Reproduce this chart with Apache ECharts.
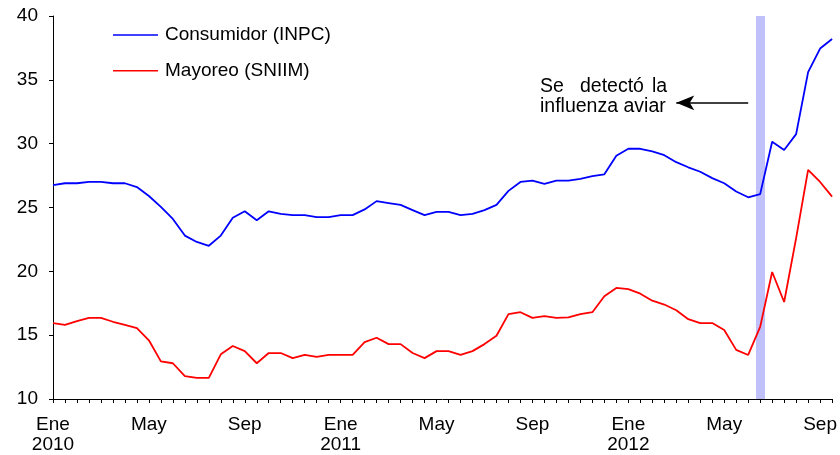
<!DOCTYPE html>
<html>
<head>
<meta charset="utf-8">
<script src="https://cdn.jsdelivr.net/npm/echarts@6/dist/echarts.min.js"></script>
<style>
  html, body { margin: 0; padding: 0; background: #fff; }
  #chart { width: 840px; height: 455px; }
</style>
</head>
<body>
<div id="chart"></div>
<script>
// precios del huevo, datos quincenales Ene 2010 - Sep 2012
var months = ['Ene', 'Feb', 'Mar', 'Abr', 'May', 'Jun', 'Jul', 'Ago', 'Sep', 'Oct', 'Nov', 'Dic'];
var years = [2010, 2011, 2012];
var tickLabels = ['Ene\n2010', 'May', 'Sep', 'Ene\n2011', 'May', 'Sep', 'Ene\n2012', 'May', 'Sep'];

// Consumidor (INPC)
var inpc = [
  26.75, 26.9, 26.9, 27.0, 27.0, 26.9, 26.9, 26.6, 25.9, 25.05, 24.1, 22.8,
  22.3, 22.0, 22.8, 24.2, 24.7, 24.0, 24.7, 24.5, 24.4, 24.4, 24.25, 24.25,
  24.4, 24.4, 24.85, 25.5, 25.35, 25.2, 24.8, 24.4, 24.65, 24.65, 24.4, 24.5,
  24.8, 25.2, 26.3, 27.0, 27.1, 26.85, 27.1, 27.1, 27.25, 27.45, 27.6, 29.05,
  29.6, 29.6, 29.4, 29.1, 28.55, 28.15, 27.8, 27.3, 26.9, 26.25, 25.8, 26.05,
  30.15, 29.5, 30.75, 35.6, 37.45, 38.2
];
// Mayoreo (SNIIM)
var sniim = [
  15.95, 15.8, 16.1, 16.35, 16.35, 16.05, 15.8, 15.55, 14.6, 12.95, 12.8, 11.8,
  11.65, 11.65, 13.5, 14.15, 13.75, 12.8, 13.6, 13.6, 13.2, 13.45, 13.3, 13.45,
  13.45, 13.45, 14.45, 14.8, 14.3, 14.3, 13.6, 13.2, 13.75, 13.75, 13.45, 13.75,
  14.3, 14.95, 16.65, 16.8, 16.35, 16.5, 16.35, 16.4, 16.65, 16.8, 18.05, 18.7,
  18.6, 18.25, 17.7, 17.4, 16.95, 16.25, 15.95, 15.95, 15.4, 13.85, 13.45, 15.65,
  19.95, 17.6, 22.6, 27.95, 27.0, 25.85
];

// quincena en que se detectó la influenza aviar
var brotePeriodo = 59;
// flecha de la nota
var flechaDesde = 58, flechaHasta = 52, flechaNivel = 33.2;

var periods = [];
years.forEach(function (y) {
  months.forEach(function (m) {
    periods.push(m + ' ' + y + ' 1');
    periods.push(m + ' ' + y + ' 2');
  });
});
periods = periods.slice(0, inpc.length);

var font = 'Liberation Sans, Arial, sans-serif';
var chart = echarts.init(document.getElementById('chart'));
var option = {
  animation: false,
  backgroundColor: '#fff',
  grid: {
    left: 53,
    right: 7,
    top: 16,
    bottom: 55,
  },
  legend: {
    orient: 'vertical',
    left: 113,
    top: 25,
    itemWidth: 45,
    itemHeight: 1.5,
    itemGap: 15.7,
    icon: 'rect',
    padding: 0,
    textStyle: {
      fontFamily: font,
      fontSize: 19,
      lineHeight: 20,
      color: '#000',
      padding: [0, 0, 0, 2]
    },
    data: ['Consumidor (INPC)', 'Mayoreo (SNIIM)']
  },
  xAxis: {
    type: 'category',
    data: periods,
    boundaryGap: false,
    axisLine: { lineStyle: { color: '#000', width: 1 } },
    axisTick: { interval: 0, length: 4, lineStyle: { color: '#000' } },
    axisLabel: {
      interval: 7,
      margin: 16,
      fontFamily: font,
      fontSize: 19,
      lineHeight: 20,
      color: '#000',
      formatter: function (value, index) {
        return tickLabels[index / 8];
      }
    },
    splitLine: { show: false }
  },
  yAxis: {
    type: 'value',
    min: 10,
    max: 40,
    interval: 5,
    axisLine: { show: true, lineStyle: { color: '#000', width: 1 } },
    axisTick: { show: true, length: 4, lineStyle: { color: '#000' } },
    axisLabel: {
      margin: 15,
      fontFamily: font,
      fontSize: 19,
      color: '#000'
    },
    splitLine: { show: false }
  },
  series: [
    {
      name: 'Consumidor (INPC)',
      type: 'line',
      data: inpc,
      symbol: 'none',
      z: 3,
      lineStyle: { color: '#0000ff', width: 1.8 },
      itemStyle: { color: '#0000ff' },
      markLine: {
        silent: true,
        z: 1,
        symbol: 'none',
        label: { show: false },
        data: [
          { xAxis: brotePeriodo, lineStyle: { color: '#c0c0fb', width: 9, type: 'solid' } }
        ]
      }
    },
    {
      name: 'Mayoreo (SNIIM)',
      type: 'line',
      data: sniim,
      symbol: 'none',
      z: 3,
      lineStyle: { color: '#ff0000', width: 1.8 },
      itemStyle: { color: '#ff0000' },
      markLine: {
        silent: true,
        z: 4,
        symbol: ['none', 'arrow'],
        symbolSize: [11, 18],
        label: { show: false },
        lineStyle: { color: '#000', width: 1.5, type: 'solid' },
        itemStyle: { color: '#000' },
        data: [
          [{ coord: [flechaDesde, flechaNivel] }, { coord: [flechaHasta, flechaNivel] }]
        ]
      }
    }
  ],
  graphic: [
    { type: 'text', left: 540, top: 77, style: { text: 'Se', font: '19.5px ' + font, fill: '#000' } },
    { type: 'text', left: 580, top: 77, style: { text: 'detectó', font: '19.5px ' + font, fill: '#000' } },
    { type: 'text', left: 652, top: 77, style: { text: 'la', font: '19.5px ' + font, fill: '#000' } },
    { type: 'text', left: 540, top: 97, style: { text: 'influenza aviar', font: '19.5px ' + font, fill: '#000' } }
  ]
};
chart.setOption(option);
</script>
</body>
</html>
